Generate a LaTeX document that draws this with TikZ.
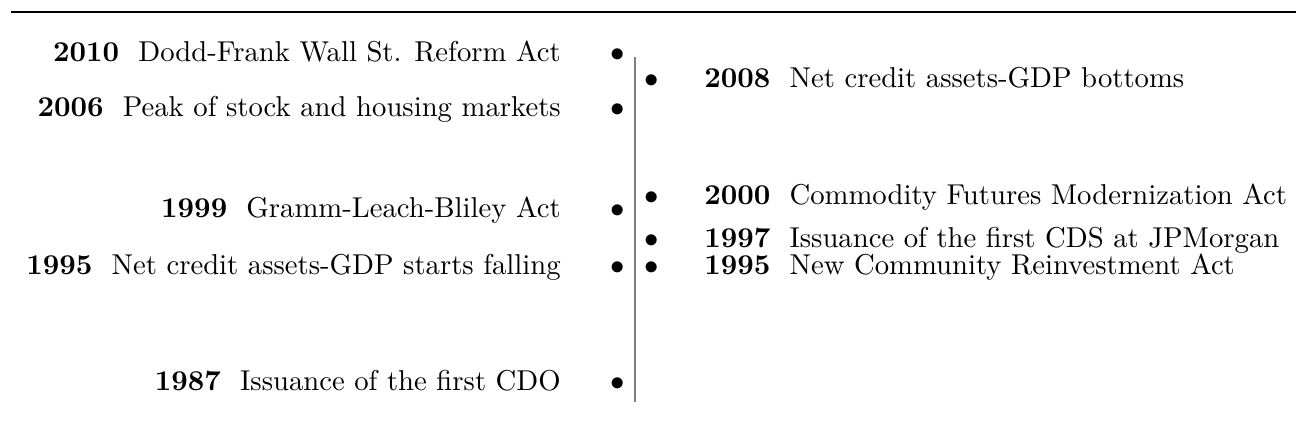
\documentclass[tikz,border=0pt]{standalone}
\usepackage{amssymb}
\usepackage{xcolor}
\usetikzlibrary{positioning}
\tikzset{%
	dot/.style   = {inner sep=0pt}, % timeline bullet
	evl/.style   = {anchor=base east, inner sep=0pt}, % event left of axis
	evr/.style   = {anchor=base west, inner sep=0pt}, % event right of axis
	axis/.style  = {gray, line width=0.5pt},
}

\begin{document}
\begin{tikzpicture}
	\useasboundingbox (0,0) rectangle (15.87,5.449);
	\draw[line width=0.6pt] (0.135,5.302) -- (15.87,5.302);
	\coordinate (top) at (7.776,4.751);
	\coordinate (bot) at (7.776,0.526);
	\draw[axis] (top) -- (bot);

	% left side
	\node [dot] (b2010) at (7.568,4.776) {$\bullet$};
	\node [dot] (b2006) at (7.568,4.102) {$\bullet$};
	\node [dot] (b1999) at (7.568,2.865) {$\bullet$};
	\node [dot] (b1995l) at (7.568,2.167) {$\bullet$};
	\node [dot] (b1987) at (7.568,0.747) {$\bullet$};
	\node [left=0.6cm of b2010.base west,evl] (e2010) {\textbf{2010}\ \ Dodd-Frank Wall St. Reform Act};
	\node [left=0.6cm of b2006.base west,evl] (e2006) {\textbf{2006}\ \ Peak of stock and housing markets};
	\node [left=0.6cm of b1999.base west,evl] (e1999) {\textbf{1999}\ \ Gramm-Leach-Bliley Act};
	\node [left=0.6cm of b1995l.base west,evl] (e1995l) {\textbf{1995}\ \ Net credit assets-GDP starts falling};
	\node [left=0.6cm of b1987.base west,evl] (e1987) {\textbf{1987}\ \ Issuance of the first CDO};

	% right side
	\node [dot] (b2008) at (7.984,4.457) {$\bullet$};
	\node [dot] (b2000) at (7.984,3.024) {$\bullet$};
	\node [dot] (b1997) at (7.984,2.498) {$\bullet$};
	\node [dot] (b1995r) at (7.984,2.167) {$\bullet$};
	\node [right=0.54cm of b2008.base east,evr] (e2008) {\textbf{2008}\ \ Net credit assets-GDP bottoms};
	\node [right=0.54cm of b2000.base east,evr] (e2000) {\textbf{2000}\ \ Commodity Futures Modernization Act};
	\node [right=0.54cm of b1997.base east,evr] (e1997) {\textbf{1997}\ \ Issuance of the first CDS at JPMorgan};
	\node [right=0.54cm of b1995r.base east,evr] (e1995r) {\textbf{1995}\ \ New Community Reinvestment Act};
\end{tikzpicture}
\end{document}
